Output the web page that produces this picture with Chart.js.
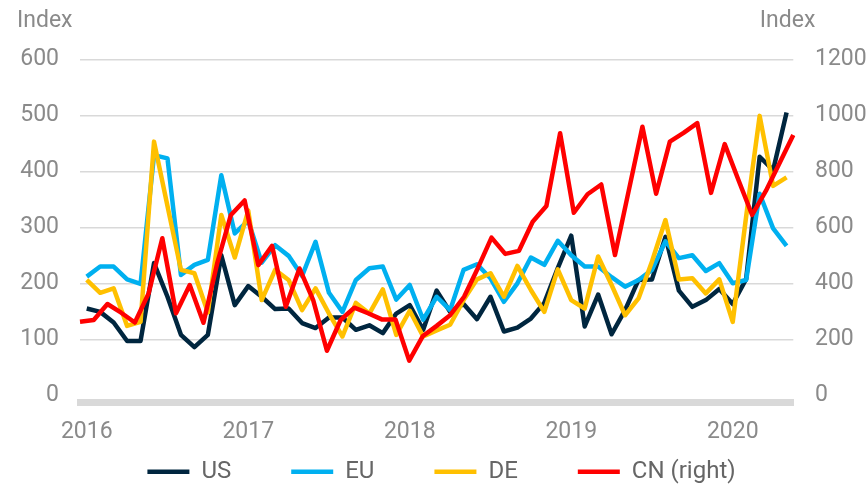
<!DOCTYPE html>
<html>
<head>
<meta charset="utf-8">
<script src="https://cdn.jsdelivr.net/npm/chart.js@4"></script>
<style>
html,body{margin:0;padding:0;background:#fff;}
#wrap{width:867px;height:486px;}
</style>
</head>
<body>
<div id="wrap"><canvas id="c" width="867" height="486"></canvas></div>
<script>
// Monthly categories Jan 2016 - May 2020
const months = [];
for (let y = 2016; y <= 2020; y++) {
  for (let m = 1; m <= 12; m++) {
    if (y === 2020 && m > 5) break;
    months.push(y + '-' + String(m).padStart(2, '0'));
  }
}
const seriesNames = ['US', 'EU', 'DE', 'CN (right)'];
const axisTitles = ['Index', 'Index'];
const leftTicks = [0, 100, 200, 300, 400, 500, 600];
const rightTicks = [0, 200, 400, 600, 800, 1000, 1200];

const usValues = [155,149,130,97,97,236,176,108,86,108,250,161,
  195,176,154,155,129,120,139,139,117,125,111,146,
  161,117,187,149,163,136,176,114,121,137,165,227,
  285,123,180,109,152,206,207,283,187,158,170,190,
  163,208,426,402,505];
const euValues = [212,230,230,207,199,429,423,215,233,242,393,289,
  312,237,268,249,213,274,183,149,206,227,230,171,
  197,135,176,152,224,234,209,167,200,246,233,276,
  250,230,230,211,194,206,224,275,245,250,222,236,
  200,206,360,298,267];
const deValues = [206,183,191,124,131,453,338,224,218,148,322,246,
  330,170,224,206,152,191,146,105,165,146,189,108,
  151,105,116,126,170,207,218,176,231,188,149,225,
  170,155,248,197,143,173,239,313,207,209,182,207,
  131,320,499,374,389];
const cnValues = [263,269,326,295,260,364,561,293,394,259,471,644,
  696,465,534,316,453,340,159,269,313,293,271,271,
  124,212,248,287,352,454,563,505,516,620,676,936,
  652,718,753,501,730,959,720,906,937,972,723,897,
  769,644,730,830,930];

const colors = ['#00263f', '#00b0f0', '#ffc000', '#ff0000'];
const gridGray = '#d9d9d9';
const labelGray = '#8a8a8a';
const FONT = 'Roboto';
const LEGEND_PAD = 60;
const LEGEND_FONT = 24;

const titlesPlugin = {
  id: 'indexTitles',
  afterDraw(chart) {
    const ctx = chart.ctx;
    const yl = chart.scales.y, yr = chart.scales.y2;
    ctx.save();
    ctx.font = '23px ' + FONT;
    ctx.fillStyle = labelGray;
    ctx.textBaseline = 'middle';
    ctx.textAlign = 'left';
    ctx.fillText(axisTitles[0], yl.left - 3, 21);
    ctx.textAlign = 'right';
    ctx.fillText(axisTitles[1], yr.left + 22, 21);
    ctx.restore();
  }
};

// place the legend row at the reference position (bottom edge stays)
const legendPlace = {
  id: 'legendPlace',
  afterLayout(chart) {
    const l = chart.legend;
    if (!l) return;
    const targetCenter = 471.7;
    l.top = targetCenter - LEGEND_PAD - LEGEND_FONT / 2;
    l.height = l.bottom - l.top;
    l.left -= 2; l.right -= 2;
  }
};

function mkDs(label, data, color, order, xId, yId) {
  return {
    label, data, borderColor: color, backgroundColor: color,
    borderWidth: 4.5, pointRadius: 0, pointHoverRadius: 0, tension: 0,
    borderJoinStyle: 'round', borderCapStyle: 'butt', fill: false,
    order, xAxisID: xId, yAxisID: yId
  };
}

new Chart(document.getElementById('c'), {
  type: 'line',
  data: {
    labels: months,
    datasets: [
      mkDs(seriesNames[0], usValues, colors[0], 3, 'x', 'y'),
      mkDs(seriesNames[1], euValues, colors[1], 2, 'x', 'y'),
      mkDs(seriesNames[2], deValues, colors[2], 1, 'x', 'y'),
      mkDs(seriesNames[3], cnValues, colors[3], 0, 'x2', 'y2')
    ]
  },
  options: {
    responsive: false,
    devicePixelRatio: 1,
    animation: false,
    layout: { padding: { top: 59.3, left: 20, right: 0, bottom: 0 } },
    plugins: {
      tooltip: { enabled: false },
      legend: {
        position: 'bottom',
        align: 'center',
        maxHeight: 35.3,
        labels: {
          boxWidth: 42,
          boxHeight: 4.5,
          padding: LEGEND_PAD,
          color: '#666666',
          font: { family: FONT, size: LEGEND_FONT },
          sort: (a, b) => a.datasetIndex - b.datasetIndex,
          generateLabels(chart) {
            const items = Chart.defaults.plugins.legend.labels.generateLabels(chart);
            items.forEach(it => { it.lineWidth = 0; it.fillStyle = it.strokeStyle; });
            return items;
          }
        }
      }
    },
    scales: {
      x: {
        type: 'category',
        offset: true,
        grid: { display: false, drawTicks: false },
        border: { display: true, color: gridGray, width: 7 },
        ticks: {
          autoSkip: false, maxRotation: 0, minRotation: 0, padding: 15.5,
          color: labelGray, font: { family: FONT, size: 23 },
          callback(value, index) {
            const lab = months[index];
            return lab.endsWith('-01') ? lab.slice(0, 4) : '';
          }
        },
        afterFit(s) { s.height = 48; }
      },
      x2: {
        type: 'category',
        offset: false,
        display: false,
        labels: months
      },
      y: {
        position: 'left',
        min: -13.2, max: 600,
        grid: {
          drawTicks: false, lineWidth: 1.5,
          color(ctx) { return ctx.tick && ctx.tick.value === 0 ? 'rgba(0,0,0,0)' : gridGray; }
        },
        border: { display: false },
        ticks: {
          padding: 21, color: labelGray, font: { family: FONT, size: 23 },
          callback(v) { return String(v); }
        },
        afterBuildTicks(s) { s.ticks = leftTicks.map(v => ({ value: v })); },
        afterFit(s) { s.width = 60; }
      },
      y2: {
        position: 'right',
        min: -26.4, max: 1200,
        grid: { display: false, drawTicks: false },
        border: { display: false },
        ticks: {
          padding: 21.7, color: labelGray, font: { family: FONT, size: 23 },
          callback(v) { return String(v); }
        },
        afterBuildTicks(s) { s.ticks = rightTicks.map(v => ({ value: v })); },
        afterFit(s) { s.width = 73.7; }
      }
    }
  },
  plugins: [titlesPlugin, legendPlace]
});
</script>
</body>
</html>
